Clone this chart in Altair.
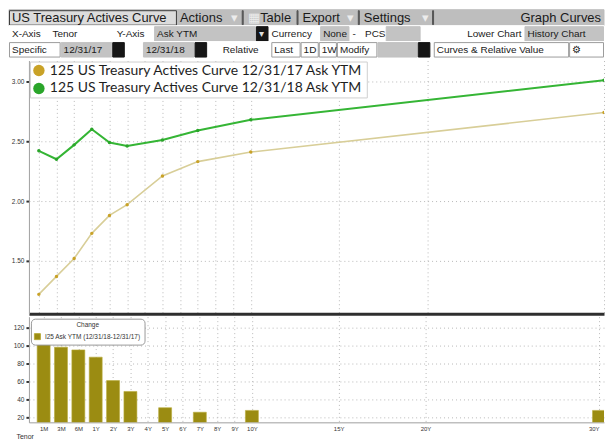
import altair as alt
import pandas as pd

# ---------------- values ----------------
TENORS = ["1M", "3M", "6M", "1Y", "2Y", "3Y", "5Y", "7Y", "10Y", "30Y"]
YTM_12_31_17 = [1.22, 1.37, 1.52, 1.73, 1.88, 1.97, 2.21, 2.33, 2.41, 2.74]
YTM_12_31_18 = [2.42, 2.35, 2.47, 2.60, 2.49, 2.46, 2.51, 2.59, 2.68, 3.01]
CHANGE_BP = [120, 98, 95, 87, 61, 49, 31, 26, 28, 28]
TICK_LABELS = ["1M", "3M", "6M", "1Y", "2Y", "3Y", "4Y", "5Y", "6Y", "7Y",
               "8Y", "9Y", "10Y", "15Y", "20Y", "30Y"]
SERIES_NAMES = ["125 US Treasury Actives Curve 12/31/17 Ask YTM",
                "125 US Treasury Actives Curve 12/31/18 Ask YTM"]
CHANGE_NAME = "I25 Ask YTM (12/31/18-12/31/17)"
YTM_TICKS = [1.5, 2.0, 2.5, 3.0]
CHANGE_TICKS = [20, 40, 60, 80, 100, 120]

# toolbar texts (Bloomberg screen chrome)
TOOLBAR_ROWS = [
    [("US Treasury Actives Curve", "title"), ("Actions", "menu"), ("▾", "icon"),
     ("", "sep"), ("▦", "icon"), ("Table", "menu"), ("", "sep"),
     ("Export", "menu"), ("▾", "icon"), ("", "sep"), ("Settings", "menu"),
     ("▾", "icon"), ("", "sep"), ("", "fill"), ("Graph Curves", "rmenu")],
    [("X-Axis", "label"), ("Tenor", "label"), ("    ", "gap"), ("Y-Axis", "label"),
     ("Ask YTM          ", "box"), ("▾", "darkt"), ("Currency", "label"),
     ("None", "box"), ("-", "label"), ("PCS", "label"), ("     ", "box"),
     ("", "fill"), ("Lower Chart", "rlabel"), ("History Chart", "box")],
    [("Specific", "wbox"), ("12/31/17", "box"), (" ", "dark"), ("  ", "gap"),
     ("12/31/18", "box"), (" ", "dark"), (" ", "gap"), ("Relative", "label"),
     ("Last", "wbox"), ("1D", "wbox"), ("1W", "wbox"), ("Modify", "wbox"),
     ("      ", "box"), (" ", "dark"), ("", "fill"),
     ("Curves & Relative Value", "wbox"), ("    ⚙", "wbox")],
]

# ---------------- tenor axis: evenly spaced up to 10Y, then linear in years ----------------
EVEN_TENORS = TICK_LABELS[:TICK_LABELS.index("10Y") + 1]


def tenor_years(t):
    n = int(t[:-1])
    return n / 12 if t.endswith("M") else n


def tenor_pos(t):
    if t in EVEN_TENORS:
        return EVEN_TENORS.index(t)
    return len(EVEN_TENORS) - 1 + tenor_years(t) - 10


TICK_POS = [tenor_pos(t) for t in TICK_LABELS]
label_expr = "''"
for p, lab in reversed(list(zip(TICK_POS, TICK_LABELS))):
    label_expr = f"datum.value == {p} ? '{lab}' : ({label_expr})"

X_DOMAIN = [-0.56, TICK_POS[-1]]
PLOT_W = 577

curve = pd.DataFrame({
    "tenor": TENORS * 2,
    "pos": [tenor_pos(t) for t in TENORS] * 2,
    "ytm": YTM_12_31_17 + YTM_12_31_18,
    "series": [SERIES_NAMES[0]] * len(TENORS) + [SERIES_NAMES[1]] * len(TENORS),
})
change = pd.DataFrame({
    "tenor": TENORS,
    "pos": [tenor_pos(t) for t in TENORS],
    "bp": CHANGE_BP,
    "name": [CHANGE_NAME] * len(TENORS),
})

GRID = dict(grid=True, gridColor="#b9b9b9", gridDash=[1, 3], gridWidth=1)
AXFONT = "Liberation Sans"

x_upper = alt.X("pos:Q", scale=alt.Scale(domain=X_DOMAIN, nice=False, zero=False),
                axis=alt.Axis(values=TICK_POS, labels=False, ticks=False, title=None,
                              domainColor="#2e2e2e", domainWidth=3, **GRID))
y_upper = alt.Y("ytm:Q", scale=alt.Scale(domain=[1.0583, 3.175], nice=False, zero=False),
                axis=alt.Axis(values=YTM_TICKS, format=".2f", title=None, labelFont=AXFONT,
                              labelFontSize=6.5, labelColor="#333", tickSize=3, tickWidth=2,
                              tickColor="#333", labelPadding=2, domainColor="#a0a0a0", **GRID))

base_u = alt.Chart(curve)
line17 = base_u.transform_filter(alt.datum.series == SERIES_NAMES[0]).mark_line(
    color="#d8ce98", strokeWidth=1.6, clip=True).encode(x=x_upper, y=y_upper)
line18 = base_u.transform_filter(alt.datum.series == SERIES_NAMES[1]).mark_line(
    color="#35b535", strokeWidth=2, clip=True).encode(x=x_upper, y=y_upper)
pts = base_u.mark_circle(size=12, opacity=1, clip=True).encode(
    x=x_upper, y=y_upper,
    color=alt.Color("series:N", scale=alt.Scale(domain=SERIES_NAMES,
                                                range=["#c9a227", "#2aa52a"]),
                    legend=alt.Legend(title=None, orient="top-left", offset=1, padding=2,
                                      fillColor="white", strokeColor="#cfcfcf",
                                      labelFont="Lato", labelFontSize=14, labelColor="#1e1e1e",
                                      labelLimit=600, symbolType="circle", symbolSize=130,
                                      rowPadding=4, labelOffset=4)))
upper = alt.layer(line17, line18, pts).properties(width=PLOT_W, height=254)

x_lower = alt.X("pos:Q", scale=alt.Scale(domain=X_DOMAIN, nice=False, zero=False),
                axis=alt.Axis(values=TICK_POS, labelExpr=label_expr, labelFlush=False,
                              labelFont=AXFONT, labelFontSize=6, labelColor="#333",
                              labelAlign=alt.ExprRef(f"datum.value >= {TICK_POS[-1]} ? 'right' : 'center'"),
                              ticks=False, labelPadding=3, domainColor="#a0a0a0",
                              title="Tenor", titleFont=AXFONT, titleFontSize=7,
                              titleFontWeight="normal", titleColor="#333", titleAnchor="start",
                              titleX=-13, titlePadding=1, **GRID))
y_lower = alt.Y("bp:Q", scale=alt.Scale(domain=[14.8, 131.8], nice=False, zero=False),
                axis=alt.Axis(values=CHANGE_TICKS, title=None, labelFont=AXFONT,
                              labelFontSize=6.5, labelColor="#333", tickSize=3, tickWidth=2,
                              tickColor="#333", labelPadding=2, domainColor="#a0a0a0", **GRID))
lower = alt.Chart(change).mark_bar(size=13, clip=True, color="#9b8c12", strokeWidth=0.6).encode(
    x=x_lower, y=y_lower,
    stroke=alt.Stroke("name:N", scale=alt.Scale(domain=[CHANGE_NAME], range=["#b8ab3a"]),
                      legend=alt.Legend(title="Change", orient="top-left", offset=2, padding=3,
                                        fillColor="white", strokeColor="#9a9a9a", cornerRadius=4,
                                        titleFont=AXFONT, titleFontSize=6.5, titleFontWeight="normal",
                                        titleColor="#333", titleAnchor="middle",
                                        labelFont=AXFONT, labelFontSize=6.5, labelColor="#333",
                                        symbolType="square", symbolSize=36, labelLimit=300,
                                        symbolFillColor="#fffbe6", symbolStrokeWidth=1))
).properties(width=PLOT_W, height=106)

# ---------------- toolbar chrome ----------------
TB_W = PLOT_W + 20
ROW_H = 16
ROW_BG = ["#bebebe", "#ffffff", "#ffffff"]
BOX_STYLE = {"title": ("#dcdcdc", "#3c3c3c"), "box": ("#c3c3c3", "#c3c3c3"),
             "wbox": ("#ffffff", "#9c9c9c"), "dark": ("#161616", "#161616"),
             "darkt": ("#161616", "#161616"), "sep": ("#555555", "#555555")}
TEXT_COLOR = {"icon": "#ececec", "darkt": "#dddddd"}

rects, texts = [], []
for r, items in enumerate(TOOLBAR_ROWS):
    fs = 13 if r == 0 else 10
    cw = 0.5 if r == 0 else 0.56
    pad = 6 if r == 0 else 7
    top, bot = r * ROW_H, (r + 1) * ROW_H
    widths = []
    for lab, kind in items:
        if kind == "sep":
            widths.append(4)
        elif kind == "fill":
            widths.append(0)
        else:
            widths.append(len(lab) * fs * cw + pad)
    free = TB_W - sum(widths)
    widths = [max(free, 0) if k == "fill" else w for (l, k), w in zip(items, widths)]
    rects.append(dict(x=0, x2=TB_W, y=top, y2=bot, fill=ROW_BG[r], stroke=ROW_BG[r]))
    x = 0
    for (lab, kind), w in zip(items, widths):
        if kind == "sep":
            rects.append(dict(x=x + 1.5, x2=x + 2.5, y=top + 1, y2=bot - 1,
                              fill="#555555", stroke="#555555"))
        elif kind in BOX_STYLE:
            f, s = BOX_STYLE[kind]
            rects.append(dict(x=x + 0.5, x2=x + w - 0.5, y=top + 1, y2=bot - 0.5, fill=f, stroke=s))
        if lab.strip():
            right = kind.startswith("r")
            texts.append(dict(tx=(x + w - 3) if right else (x + 3), ty=(top + bot) / 2 + 0.5,
                              label=lab, fs=fs, right=right,
                              color=TEXT_COLOR.get(kind, "#1a1a1a")))
        x += w

tb_x = alt.Scale(domain=[0, TB_W], range=[-20, PLOT_W])
tb_y = alt.Scale(domain=[0, 3 * ROW_H], range=[0, 3 * ROW_H])
tb_rect = alt.Chart(pd.DataFrame(rects)).mark_rect(strokeWidth=1).encode(
    x=alt.X("x:Q", scale=tb_x, axis=None), x2="x2:Q",
    y=alt.Y("y:Q", scale=tb_y, axis=None), y2="y2:Q",
    fill=alt.Fill("fill:N", scale=None), stroke=alt.Stroke("stroke:N", scale=None))
tb_texts = alt.Chart(pd.DataFrame(texts))
tb_enc = dict(x=alt.X("tx:Q", scale=tb_x, axis=None),
              y=alt.Y("ty:Q", scale=tb_y, axis=None),
              text="label:N", size=alt.Size("fs:Q", scale=None),
              color=alt.Color("color:N", scale=None))
tb_text_l = tb_texts.transform_filter("!datum.right").mark_text(
    align="left", baseline="middle", font="Liberation Sans").encode(**tb_enc)
tb_text_r = tb_texts.transform_filter("datum.right").mark_text(
    align="right", baseline="middle", font="Liberation Sans").encode(**tb_enc)
toolbar = alt.layer(tb_rect, tb_text_l, tb_text_r).properties(width=PLOT_W, height=3 * ROW_H)

chart = alt.vconcat(toolbar, upper, lower, spacing=3, bounds="flush").resolve_scale(
    color="independent", stroke="independent", x="independent", y="independent").resolve_legend(
    color="independent", stroke="independent").properties(
    padding=0, background="white").configure_view(strokeWidth=0)

chart.save("out.html", embed_options={"renderer": "svg", "actions": False})
